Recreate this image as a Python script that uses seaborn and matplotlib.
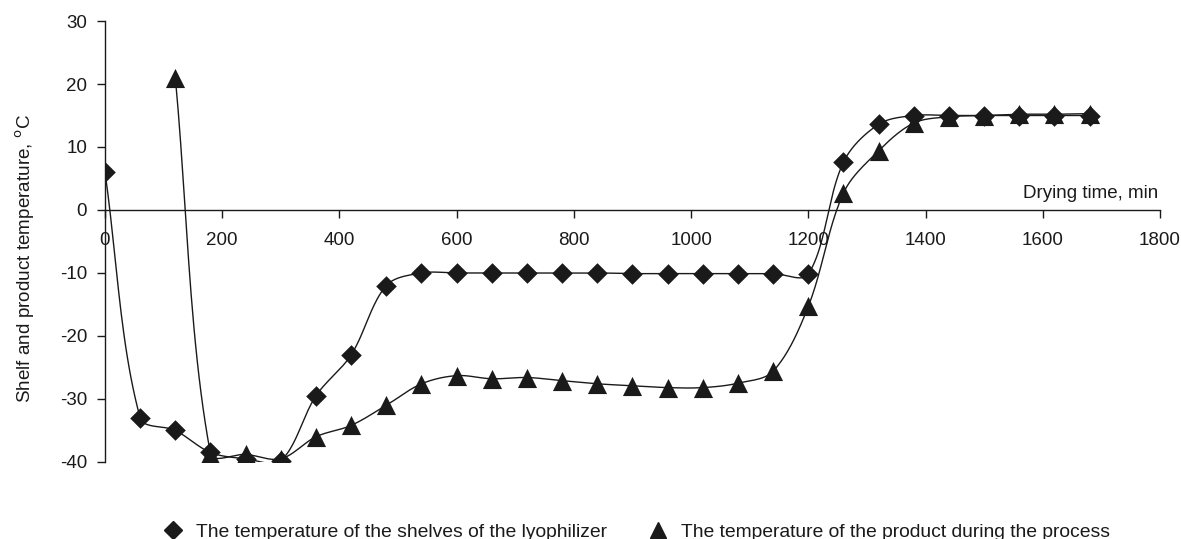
import numpy as np
import pandas as pd
import matplotlib
matplotlib.use("Agg")
import matplotlib.pyplot as plt
import seaborn as sns
from matplotlib.lines import Line2D

# drying time, min
time_shelf = [0, 60, 120, 180, 240, 300, 360, 420, 480, 540, 600, 660, 720, 780,
              840, 900, 960, 1020, 1080, 1140, 1200, 1260, 1320, 1380, 1440, 1500,
              1560, 1620, 1680]
temp_shelf = [6, -33, -35, -38.5, -39.5, -39.8, -29.5, -23, -12, -10, -10, -10, -10,
              -10, -10, -10.1, -10.1, -10.1, -10.1, -10.1, -10.2, 7.6, 13.6, 15, 15,
              15, 15, 15, 15]

time_product = [120, 180, 240, 300, 360, 420, 480, 540, 600, 660, 720, 780, 840,
                900, 960, 1020, 1080, 1140, 1200, 1260, 1320, 1380, 1440, 1500,
                1560, 1620, 1680]
temp_product = [21, -38.7, -38.8, -39.5, -36, -34.2, -31, -27.6, -26.3, -26.8, -26.6,
                -27.1, -27.6, -27.9, -28.2, -28.2, -27.5, -25.6, -15.3, 2.7, 9.4,
                13.8, 14.8, 15, 15.2, 15.2, 15.3]

x_ticks = [0, 200, 400, 600, 800, 1000, 1200, 1400, 1600, 1800]
y_ticks = [-40, -30, -20, -10, 0, 10, 20, 30]

label_shelf = "The temperature of the shelves of the lyophilizer"
label_product = "The temperature of the product during the process"

INK = "#1a1a1a"


def smooth(x, y, n=24, sx=0.586, sy=6.3):
    # spreadsheet-style smoothed line: bezier segments, control points scaled
    # by neighbouring segment lengths (computed in screen proportions)
    p = np.column_stack([np.asarray(x, float) * sx, np.asarray(y, float) * sy])
    p = np.vstack([p[0], p, p[-1]])
    t = np.linspace(0, 1, n)[:, None]
    out = []
    for i in range(1, len(p) - 2):
        p0, p1, p2, p3 = p[i - 1], p[i], p[i + 1], p[i + 2]
        d01 = np.linalg.norm(p1 - p0)
        d12 = np.linalg.norm(p2 - p1)
        d23 = np.linalg.norm(p3 - p2)
        f1 = d12 / (d01 + d12) if d01 + d12 > 0 else 0
        f2 = d12 / (d12 + d23) if d12 + d23 > 0 else 0
        b1 = p1 + (p2 - p0) * f1 / 3
        b2 = p2 - (p3 - p1) * f2 / 3
        seg = ((1 - t) ** 3) * p1 + 3 * ((1 - t) ** 2) * t * b1 \
            + 3 * (1 - t) * t ** 2 * b2 + t ** 3 * p2
        out.append(seg)
    c = np.vstack(out)
    return pd.DataFrame({"x": c[:, 0] / sx, "y": c[:, 1] / sy})


sns.set_style("white")
plt.rcParams["font.family"] = ["Liberation Sans", "DejaVu Sans"]
plt.rcParams["axes.unicode_minus"] = False

fig = plt.figure(figsize=(11.81, 5.39), dpi=100)
ax = fig.add_axes([0.0889, 0.143, 0.8933, 0.818])

df_shelf = pd.DataFrame({"t": time_shelf, "T": temp_shelf})
df_prod = pd.DataFrame({"t": time_product, "T": temp_product})

sns.lineplot(data=smooth(time_shelf, temp_shelf), x="x", y="y", sort=False,
             estimator=None, color=INK, linewidth=1.0, ax=ax)
sns.lineplot(data=smooth(time_product, temp_product), x="x", y="y", sort=False,
             estimator=None, color=INK, linewidth=1.0, ax=ax)
sns.scatterplot(data=df_shelf, x="t", y="T", marker="D", s=110, color=INK,
                edgecolor=INK, linewidth=0, ax=ax, zorder=3)
sns.scatterplot(data=df_prod, x="t", y="T", marker="^", s=190, color=INK,
                edgecolor=INK, linewidth=0, ax=ax, zorder=3)

ax.set_xlim(0, 1800)
ax.set_ylim(-40, 30)
ax.set_xticks(x_ticks)
ax.set_yticks(y_ticks)
ax.set_xlabel("")
ax.set_ylabel(r"Shelf and product temperature, $^{\mathrm{o}}$C", fontsize=13.6,
              color=INK)
ax.yaxis.set_label_coords(-0.0645, 0.4626)

for s in ["top", "right"]:
    ax.spines[s].set_visible(False)
ax.spines["bottom"].set_position(("data", 0))
ax.spines["left"].set_bounds(-40, 30)
for s in ["left", "bottom"]:
    ax.spines[s].set_color(INK)
    ax.spines[s].set_linewidth(1.0)

ax.tick_params(axis="both", direction="out", length=5.8, width=1.0, color=INK,
               labelsize=13.5, labelcolor=INK, bottom=True, left=True)
ax.tick_params(axis="x", pad=10)
ax.tick_params(axis="y", pad=7)

ax.text(1797, 1.3, "Drying time, min", ha="right", va="bottom", fontsize=13.5,
        color=INK)

handles = [
    Line2D([], [], marker="D", linestyle="none", color=INK, markersize=9.5),
    Line2D([], [], marker="^", linestyle="none", color=INK, markersize=12),
]
fig.legend(handles, [label_shelf, label_product], loc="lower center",
           bbox_to_anchor=(0.535, -0.036), ncol=2, frameon=False, fontsize=13.9,
           handletextpad=0.2, columnspacing=1.6, labelcolor=INK)

fig.savefig("out.png", dpi=100)
